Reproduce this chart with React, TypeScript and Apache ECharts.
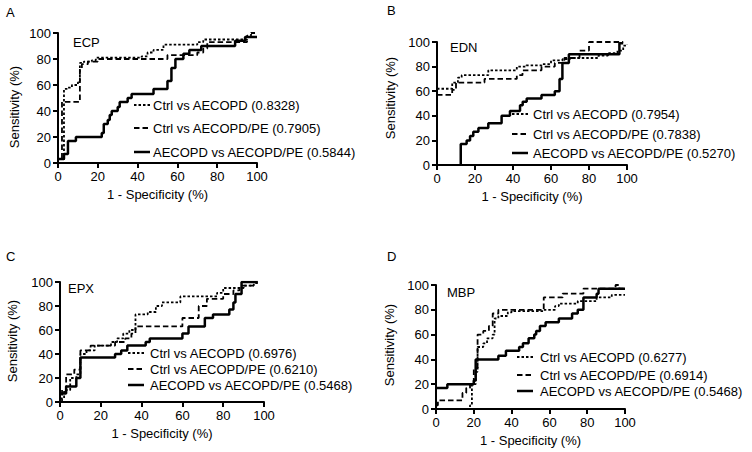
import React, { useEffect, useRef } from "react";
import * as echarts from "echarts";

const FONT = '"Liberation Sans", Arial, Helvetica, sans-serif';

const panelLetters = ["A", "B", "C", "D"];
const panelTitles = ["ECP", "EDN", "EPX", "MBP"];
const xAxisTitle = "1 - Specificity (%)";
const yAxisTitle = "Sensitivity (%)";
const seriesLabels = [
  ["Ctrl vs AECOPD (0.8328)", "Ctrl vs AECOPD/PE (0.7905)", "AECOPD vs AECOPD/PE (0.5844)"],
  ["Ctrl vs AECOPD (0.7954)", "Ctrl vs AECOPD/PE (0.7838)", "AECOPD vs AECOPD/PE (0.5270)"],
  ["Ctrl vs AECOPD (0.6976)", "Ctrl vs AECOPD/PE (0.6210)", "AECOPD vs AECOPD/PE (0.5468)"],
  ["Ctrl vs AECOPD (0.6277)", "Ctrl vs AECOPD/PE (0.6914)", "AECOPD vs AECOPD/PE (0.5468)"],
];
const axisTicks = [0, 20, 40, 60, 80, 100];

// ROC step points: [1 - specificity %, sensitivity %] (top of each riser)
const ecpCtrlAecopd = [[0, 0], [3, 57], [5, 58], [7, 60], [10, 62], [11, 77], [13, 78], [17, 79], [19, 81], [42, 82], [45, 85], [48, 87], [53, 91], [70, 93], [73, 95], [95, 98], [97, 100], [98, 100]];
const ecpCtrlPe = [[0, 0], [0, 3], [2, 47], [11, 73], [12, 76], [15, 78], [20, 80], [55, 83], [70, 85], [73, 88], [75, 93], [95, 97], [97, 100], [99, 100]];
const ecpAecopdPe = [[0, 3], [3, 7], [5, 17], [9, 20], [22, 23], [23, 30], [25, 33], [26, 37], [27, 40], [30, 43], [31, 47], [35, 50], [37, 53], [48, 57], [55, 63], [57, 73], [59, 80], [63, 84], [66, 87], [72, 90], [89, 94], [94, 97], [100, 97]];

const ednCtrlAecopd = [[0, 62], [8, 67], [11, 71], [13, 73], [27, 77], [42, 80], [47, 81], [55, 82], [60, 85], [66, 86], [70, 87], [85, 89], [90, 91], [95, 93], [98, 97], [100, 98]];
const ednCtrlPe = [[0, 57], [8, 61], [10, 67], [25, 70], [42, 73], [45, 77], [55, 80], [62, 83], [67, 87], [75, 93], [80, 100], [98, 100]];
const ednAecopdPe = [[12.5, 0], [12.5, 17], [15.6, 20], [17.4, 23.6], [19.1, 27], [21.8, 30], [27, 34], [34, 40], [38.4, 44], [43.7, 48.5], [45.1, 51.5], [47.2, 54], [55, 57], [62, 60], [64.5, 70], [66, 83], [69.4, 90], [96, 99], [98, 99]];

const epxCtrlAecopd = [[0, 3], [2, 10], [5, 20], [8, 23], [10, 40], [13, 43], [17, 47], [25, 50], [28, 53], [31, 57], [34, 60], [37, 73], [43, 75], [47, 80], [50, 83], [59, 88], [77, 91], [80, 95], [90, 97], [95, 99], [97, 99]];
const epxCtrlPe = [[0, 0], [1, 10], [3, 23], [7, 27], [10, 43], [15, 47], [27, 50], [32, 53], [35, 57], [37, 63], [60, 70], [68, 80], [72, 86], [80, 90], [85, 93], [88, 97], [95, 97]];
const epxAecopdPe = [[0, 7], [3, 13], [8, 20], [10, 37], [27, 40], [30, 43], [33, 47], [42, 50], [44, 53], [60, 57], [63, 63], [71, 70], [75, 73], [83, 77], [85, 83], [86, 90], [89, 100], [97, 100]];

const mbpCtrlAecopd = [[0, 0], [18, 3], [19, 20], [21, 30], [22, 50], [25, 53], [27, 57], [30, 60], [31, 73], [33, 75], [38, 78], [40, 79], [57, 80], [63, 83], [65, 85], [75, 87], [85, 90], [93, 92], [100, 92]];
const mbpCtrlPe = [[0, 3], [1, 7], [14, 13], [16, 17], [18, 20], [20, 33], [22, 60], [25, 63], [28, 67], [30, 77], [33, 80], [57, 90], [67, 93], [78, 97], [95, 100], [97, 97], [100, 97]];
const mbpAecopdPe = [[0, 17], [6, 20], [20, 23], [21, 40], [33, 43], [37, 47], [44, 50], [46, 53], [49, 57], [52, 60], [53, 63], [55, 67], [58, 70], [65, 73], [72, 77], [75, 80], [78, 90], [85, 93], [86, 97], [100, 97]];

const panelData = [
  [ecpCtrlAecopd, ecpCtrlPe, ecpAecopdPe],
  [ednCtrlAecopd, ednCtrlPe, ednAecopdPe],
  [epxCtrlAecopd, epxCtrlPe, epxAecopdPe],
  [mbpCtrlAecopd, mbpCtrlPe, mbpAecopdPe],
];

// layout
const grids = [
  { left: 58, top: 33, width: 199, height: 130 },
  { left: 437, top: 42, width: 190, height: 123 },
  { left: 60, top: 282, width: 204, height: 120 },
  { left: 436, top: 285, width: 189, height: 124 },
];
const letterPos = [[6, 6], [387, 4], [6, 250], [387, 250]];
const titlePos = [[73, 36], [450, 41], [68, 282], [447, 286]];
const yNamePos = [[14, 107], [390, 98], [12.5, 341], [389, 345]];
const legendPos = [
  { x: 134, textX: 153, rows: [105, 128, 152] },
  { x: 512, textX: 533, rows: [114, 134, 153] },
  { x: 128, textX: 150, rows: [353, 369, 385] },
  { x: 517, textX: 540, rows: [357, 375, 391] },
];
const styles = [
  { width: 1.8, dash: [2.5, 2] },
  { width: 1.8, dash: [5.5, 3] },
  { width: 2.5, dash: null as number[] | null },
];

export default function App() {
  const ref = useRef<HTMLDivElement>(null);
  useEffect(() => {
    if (!ref.current) return;
    const chart = echarts.init(ref.current, undefined, { renderer: "svg" });
    const text = { color: "#000", fontFamily: FONT, fontSize: 13 };
    const xAxis = grids.map((_, i) => ({
      gridIndex: i,
      type: "value",
      min: axisTicks[0],
      max: axisTicks[axisTicks.length - 1],
      interval: 20,
      axisLine: { show: true, onZero: false, lineStyle: { color: "#000", width: 2 } },
      axisTick: { show: true, length: 5, lineStyle: { color: "#000", width: 2 } },
      axisLabel: { ...text, margin: 7 },
      splitLine: { show: false },
      name: xAxisTitle,
      nameLocation: "middle",
      nameGap: 25,
      nameTextStyle: text,
    }));
    const yAxis = grids.map((_, i) => ({
      gridIndex: i,
      type: "value",
      min: axisTicks[0],
      max: axisTicks[axisTicks.length - 1],
      interval: 20,
      axisLine: { show: true, onZero: false, lineStyle: { color: "#000", width: 2 } },
      axisTick: { show: true, length: 5, lineStyle: { color: "#000", width: 2 } },
      axisLabel: { ...text, margin: 7 },
      splitLine: { show: false },
    }));
    const series: any[] = [];
    panelData.forEach((curves, i) => {
      curves.forEach((d, j) => {
        series.push({
          type: "line",
          name: seriesLabels[i][j],
          xAxisIndex: i,
          yAxisIndex: i,
          data: d,
          step: "end",
          symbol: "none",
          silent: true,
          lineStyle: {
            color: "#000",
            width: styles[j].width,
            type: styles[j].dash ? styles[j].dash : "solid",
          },
          z: 3 - j,
        });
      });
    });
    const font = `13px ${FONT}`;
    const graphic: any[] = [];
    panelLetters.forEach((l, i) => {
      graphic.push({ type: "text", left: letterPos[i][0], top: letterPos[i][1], style: { text: l, fill: "#000", font } });
      graphic.push({ type: "text", left: titlePos[i][0], top: titlePos[i][1], style: { text: panelTitles[i], fill: "#000", font } });
      graphic.push({
        type: "text",
        x: yNamePos[i][0],
        y: yNamePos[i][1],
        rotation: Math.PI / 2,
        style: { text: yAxisTitle, fill: "#000", font, align: "center", verticalAlign: "middle" },
      });
      const lp = legendPos[i];
      seriesLabels[i].forEach((lab, j) => {
        const y = lp.rows[j];
        graphic.push({
          type: "line",
          shape: { x1: lp.x, y1: y, x2: lp.x + 16, y2: y },
          style: { stroke: "#000", lineWidth: styles[j].width, lineDash: styles[j].dash || null },
        });
        graphic.push({
          type: "text",
          x: lp.textX,
          y: y,
          style: { text: lab, fill: "#000", font, verticalAlign: "middle", align: "left" },
        });
      });
    });
    chart.setOption({
      animation: false,
      backgroundColor: "#fff",
      grid: grids.map((g) => ({ ...g, containLabel: false })),
      xAxis,
      yAxis,
      series,
      graphic,
    });
    return () => chart.dispose();
  }, []);
  return <div ref={ref} style={{ position: "fixed", left: 0, top: 0, width: 752, height: 452, background: "#fff" }} />;
}
